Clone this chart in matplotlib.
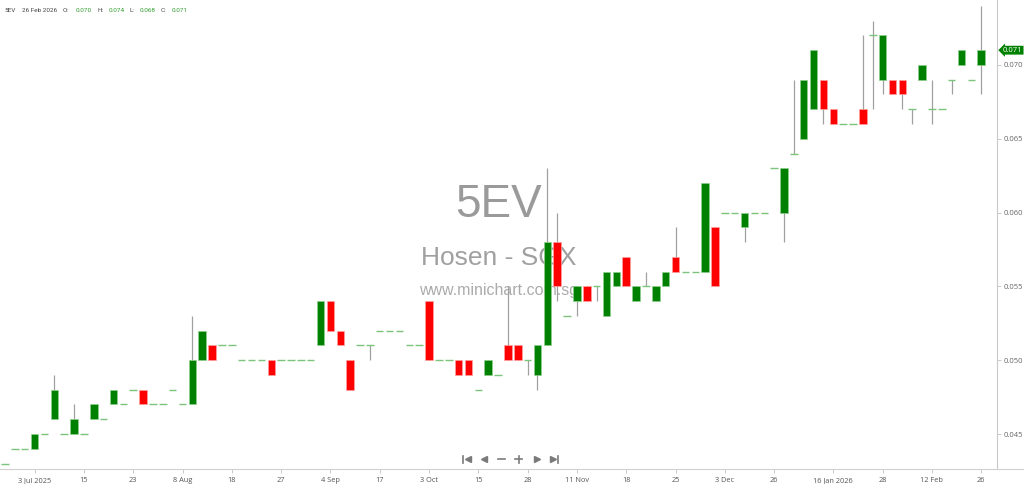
import matplotlib
matplotlib.use('Agg')
import matplotlib.pyplot as plt
import matplotlib.transforms as mtransforms
import numpy as np

# daily OHLC for 5EV, one entry per traded day
opens = [0.043, 0.044, 0.044, 0.044, 0.045, 0.046, 0.045, 0.045, 0.045, 0.046,
         0.046, 0.047, 0.047, 0.048, 0.048, 0.047, 0.047, 0.048, 0.047, 0.047,
         0.050, 0.051, 0.051, 0.051, 0.050, 0.050, 0.050, 0.050, 0.050, 0.050,
         0.050, 0.050, 0.051, 0.054, 0.052, 0.050, 0.051, 0.051, 0.052, 0.052,
         0.052, 0.051, 0.051, 0.054, 0.050, 0.050, 0.050, 0.050, 0.048, 0.049,
         0.049, 0.051, 0.051, 0.050, 0.049, 0.051, 0.058, 0.053, 0.054, 0.055,
         0.055, 0.053, 0.055, 0.057, 0.054, 0.055, 0.054, 0.055, 0.057, 0.056,
         0.056, 0.056, 0.059, 0.060, 0.060, 0.059, 0.060, 0.060, 0.063, 0.060,
         0.064, 0.065, 0.067, 0.069, 0.067, 0.066, 0.066, 0.067, 0.072, 0.069,
         0.069, 0.069, 0.067, 0.069, 0.067, 0.067, 0.069, 0.070, 0.069, 0.070]
highs = [0.043, 0.044, 0.044, 0.045, 0.045, 0.049, 0.045, 0.047, 0.045, 0.047,
         0.046, 0.048, 0.047, 0.048, 0.048, 0.047, 0.047, 0.048, 0.047, 0.053,
         0.052, 0.051, 0.051, 0.051, 0.050, 0.050, 0.050, 0.050, 0.050, 0.050,
         0.050, 0.050, 0.054, 0.054, 0.052, 0.050, 0.051, 0.051, 0.052, 0.052,
         0.052, 0.051, 0.051, 0.054, 0.050, 0.050, 0.050, 0.050, 0.048, 0.050,
         0.049, 0.055, 0.051, 0.050, 0.051, 0.063, 0.060, 0.053, 0.055, 0.055,
         0.055, 0.056, 0.056, 0.057, 0.055, 0.056, 0.055, 0.056, 0.059, 0.056,
         0.056, 0.062, 0.059, 0.060, 0.060, 0.060, 0.060, 0.060, 0.063, 0.063,
         0.069, 0.069, 0.071, 0.069, 0.067, 0.066, 0.066, 0.072, 0.073, 0.072,
         0.069, 0.069, 0.067, 0.070, 0.069, 0.067, 0.069, 0.071, 0.069, 0.074]
lows = [0.043, 0.044, 0.044, 0.044, 0.045, 0.046, 0.045, 0.045, 0.045, 0.046,
        0.046, 0.047, 0.047, 0.048, 0.047, 0.047, 0.047, 0.048, 0.047, 0.047,
        0.050, 0.050, 0.051, 0.051, 0.050, 0.050, 0.050, 0.049, 0.050, 0.050,
        0.050, 0.050, 0.051, 0.052, 0.051, 0.048, 0.051, 0.050, 0.052, 0.052,
        0.052, 0.051, 0.051, 0.050, 0.050, 0.050, 0.049, 0.049, 0.048, 0.049,
        0.049, 0.050, 0.050, 0.049, 0.048, 0.051, 0.054, 0.053, 0.053, 0.054,
        0.054, 0.053, 0.055, 0.055, 0.054, 0.055, 0.054, 0.055, 0.056, 0.056,
        0.056, 0.056, 0.055, 0.060, 0.060, 0.058, 0.060, 0.060, 0.063, 0.058,
        0.064, 0.065, 0.067, 0.066, 0.066, 0.066, 0.066, 0.066, 0.067, 0.068,
        0.068, 0.067, 0.066, 0.069, 0.066, 0.067, 0.068, 0.070, 0.069, 0.068]
closes = [0.043, 0.044, 0.044, 0.045, 0.045, 0.048, 0.045, 0.046, 0.045, 0.047,
          0.046, 0.048, 0.047, 0.048, 0.047, 0.047, 0.047, 0.048, 0.047, 0.050,
          0.052, 0.050, 0.051, 0.051, 0.050, 0.050, 0.050, 0.049, 0.050, 0.050,
          0.050, 0.050, 0.054, 0.052, 0.051, 0.048, 0.051, 0.051, 0.052, 0.052,
          0.052, 0.051, 0.051, 0.050, 0.050, 0.050, 0.049, 0.049, 0.048, 0.050,
          0.049, 0.050, 0.050, 0.050, 0.051, 0.058, 0.055, 0.053, 0.055, 0.054,
          0.055, 0.056, 0.056, 0.055, 0.055, 0.055, 0.055, 0.056, 0.056, 0.056,
          0.056, 0.062, 0.055, 0.060, 0.060, 0.060, 0.060, 0.060, 0.063, 0.063,
          0.064, 0.069, 0.071, 0.067, 0.066, 0.066, 0.066, 0.066, 0.072, 0.072,
          0.068, 0.068, 0.067, 0.070, 0.067, 0.067, 0.069, 0.071, 0.069, 0.071]

tick_pos = [3, 8, 13, 18, 23, 28, 33, 38, 43, 48, 53, 58, 63, 68, 73, 78, 84, 89, 94, 99]
tick_labels = ['3 Jul 2025', '15', '23', '8 Aug', '18', '27', '4 Sep', '17', '3 Oct', '15',
               '28', '11 Nov', '18', '25', '3 Dec', '26', '16 Jan 2026', '28', '12 Feb', '26']
y_ticks = [0.045, 0.050, 0.055, 0.060, 0.065, 0.070]

o = np.array(opens)
h = np.array(highs)
l = np.array(lows)
c = np.array(closes)
x = np.arange(len(o))

GREEN = '#008000'
RED = '#ff0000'
FLAT = '#7cc47c'
WICK = '#a0a0a0'
AXIS = '#d0d0d0'

fig = plt.figure(figsize=(10.24, 4.84), dpi=100)
ax = fig.add_axes([0, 15 / 484, 997 / 1024, 469 / 484])
ax.set_xlim(-0.51, 100.6)
ax.set_ylim(0.04263, 0.07440)

# watermark
ax.text(0.5, 0.537, '5EV', transform=ax.transAxes, ha='center', va='baseline',
        fontsize=33, color='#9a9a9a', family='Liberation Sans', zorder=0)
ax.text(0.5, 0.435, 'Hosen - SGX', transform=ax.transAxes, ha='center', va='baseline',
        fontsize=19, color='#a0a0a0', family='Liberation Sans', zorder=0)
ax.text(0.5, 0.37, 'www.minichart.com.sg', transform=ax.transAxes, ha='center', va='baseline',
        fontsize=11.5, color='#ababab', family='Liberation Sans', zorder=0)

# candles
up = c > o
down = c < o
flat = c == o
wick = h > l
ax.vlines(x[wick], l[wick], h[wick], color=WICK, lw=0.9, zorder=2)
w = 0.76
ax.bar(x[up], c[up] - o[up], bottom=o[up], width=w, color=GREEN,
       edgecolor='#8fd08f', linewidth=0.5, zorder=3)
ax.bar(x[down], o[down] - c[down], bottom=c[down], width=w, color=RED,
       edgecolor='#ffa0a0', linewidth=0.5, zorder=3)
ax.hlines(c[flat], x[flat] - w / 2, x[flat] + w / 2, color=FLAT, lw=1.0, zorder=3)

# axes styling
for s in ['top', 'left']:
    ax.spines[s].set_visible(False)
ax.spines['right'].set_color('#c8c8c8')
ax.spines['right'].set_linewidth(0.8)
ax.spines['bottom'].set_visible(False)

ax.set_xticks(tick_pos)
ax.set_xticklabels(tick_labels)
ax.tick_params(axis='x', length=3, width=0.6, color='#c0c0c0', pad=3,
               labelsize=5.3, labelcolor='#555555')
for t in ax.get_xticklabels():
    t.set_family('Open Sans')

ax.yaxis.tick_right()
ax.set_yticks(y_ticks)
ax.set_yticklabels(['%.3f' % v for v in y_ticks])
ax.tick_params(axis='y', length=3, width=0.6, color='#c0c0c0', pad=2,
               labelsize=5.5, labelcolor='#666666')
for t in ax.get_yticklabels():
    t.set_family('Open Sans')

# last price tag
trans = mtransforms.blended_transform_factory(ax.transAxes, ax.transData)
ax.text(1.006, c[-1], '%.3f' % c[-1], transform=trans, ha='left', va='center',
        fontsize=5.5, color='white', family='Open Sans', clip_on=False,
        bbox=dict(boxstyle='larrow,pad=0.12', fc=GREEN, ec='none'))

# overlay in pixel coordinates for header, base line and navigation icons
ov = fig.add_axes([0, 0, 1, 1], zorder=5)
ov.set_xlim(0, 1024)
ov.set_ylim(484, 0)
ov.axis('off')
ov.patch.set_alpha(0)
ov.plot([0, 1024], [469, 469], color=AXIS, lw=0.8)

head = [(4, '5EV', '#444444'), (22, '26 Feb 2026', '#444444'),
        (63, 'O:', '#444444'), (76, '%.3f' % o[-1], '#2e9e2e'),
        (97, 'H:', '#444444'), (109, '%.3f' % h[-1], '#2e9e2e'),
        (130, 'L:', '#444444'), (140, '%.3f' % l[-1], '#2e9e2e'),
        (161, 'C:', '#444444'), (172, '%.3f' % c[-1], '#2e9e2e')]
for hx, txt, col in head:
    ov.text(hx, 10, txt, ha='left', va='center', fontsize=4.6, color=col, family='Roboto')

ic = '#7a7a7a'
ov.plot([463, 463], [455.5, 462.5], color=ic, lw=1.2)
ov.plot([467.5], [459], marker='<', ms=4.5, color=ic, mec=ic)
ov.plot([484], [459], marker='<', ms=4.5, color=ic, mec=ic)
ov.plot([498, 505], [459, 459], color=ic, lw=1.2)
ov.plot([515, 522], [459, 459], color=ic, lw=1.2)
ov.plot([518.5, 518.5], [455.5, 462.5], color=ic, lw=1.2)
ov.plot([537], [459], marker='>', ms=4.5, color=ic, mec=ic)
ov.plot([553], [459], marker='>', ms=4.5, color=ic, mec=ic)
ov.plot([557.5, 557.5], [455.5, 462.5], color=ic, lw=1.2)

fig.savefig('out.png', dpi=100)
